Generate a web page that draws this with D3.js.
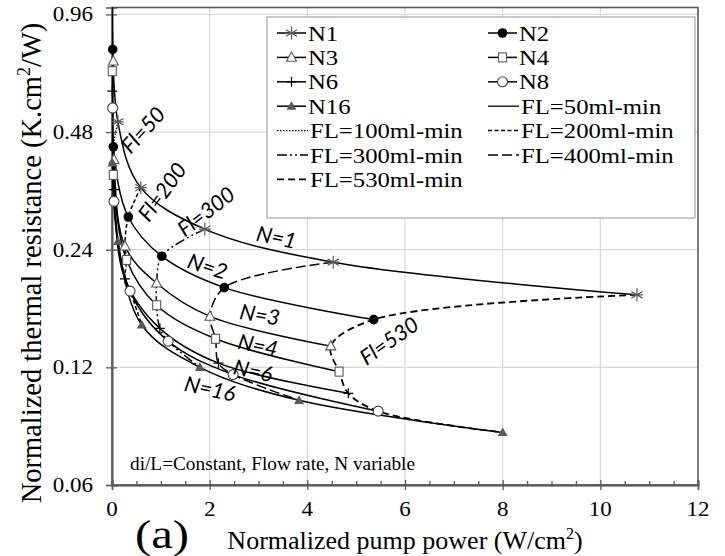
<!DOCTYPE html>
<html><head><meta charset="utf-8">
<script src="https://cdn.jsdelivr.net/npm/d3@7"></script>
<style>body{margin:0;background:#fff}</style>
</head><body><svg id="c" width="725" height="556"></svg>
<script>
// ---------------- data ----------------
const flowRates = [50, 100, 200, 300, 400, 530];
const seriesNames = ["N1", "N2", "N3", "N4", "N6", "N8", "N16"];
const powerN1  = [0.010, 0.12, 0.59, 1.90, 4.53, 10.75];
const resN1    = [1.25, 0.510, 0.346, 0.271, 0.223, 0.184];
const powerN2  = [0.014, 0.027, 0.334, 1.02, 2.30, 5.36];
const resN2    = [0.781, 0.440, 0.291, 0.231, 0.192, 0.159];
const powerN3  = [0.027, 0.041, 0.266, 0.915, 2.006, 4.48];
const resN3    = [0.729, 0.408, 0.245, 0.197, 0.162, 0.136];
const powerN4  = [0.006, 0.027, 0.30, 0.915, 2.12, 4.65];
const resN4    = [0.687, 0.373, 0.226, 0.173, 0.142, 0.117];
const powerN6  = [0.006, 0.040, 0.266, 0.98, 2.18, 4.84];
const resN6    = [0.611, 0.342, 0.202, 0.151, 0.123, 0.103];
const powerN8  = [0.014, 0.040, 0.37, 1.15, 2.48, 5.45];
const resN8    = [0.553, 0.319, 0.188, 0.140, 0.115, 0.0927];
const powerN16 = [0.010, 0.12, 0.61, 1.80, 3.83, 8.0];
const resN16   = [0.400, 0.252, 0.154, 0.120, 0.0988, 0.0818];
const flLabels = ["FL=50ml-min", "FL=100ml-min", "FL=200ml-min", "FL=300ml-min", "FL=400ml-min", "FL=530ml-min"];
const xTicks = [0, 2, 4, 6, 8, 10, 12];
const yTicks = [0.06, 0.12, 0.24, 0.48, 0.96];
const curveNotes = ["N=1", "N=2", "N=3", "N=4", "N=6", "N=16", "Fl=50", "Fl=200", "Fl=300", "Fl=530"];
const noteX = [3.37, 1.96, 3.03, 2.99, 2.89, 2.01, 0.63, 1.02, 1.92, 5.67];
const noteY = [0.259, 0.218, 0.164, 0.137, 0.118, 0.106, 0.487, 0.338, 0.301, 0.1406];
const noteRot = [12, 18, 10, 12, 12, 12, -48, -54, -38, -35];
const noteText = "di/L=Constant, Flow rate, N variable";

// --------------- setup ----------------
const svg = d3.select("#c");
const L = 112, R = 698, T = 7.5, B = 485;
const x = d3.scaleLinear().domain([0, 12]).range([L, R]);
const y = d3.scaleLog().base(2).domain([0.06, 1.0]).range([B, T]);
const SERIF = "'Liberation Serif','Times New Roman',serif";
const SANS = "Lato,'Open Sans',sans-serif";

const series = [
  {name: "N1", p: powerN1, r: resN1, m: "star"},
  {name: "N2", p: powerN2, r: resN2, m: "dot"},
  {name: "N3", p: powerN3, r: resN3, m: "tri"},
  {name: "N4", p: powerN4, r: resN4, m: "sq"},
  {name: "N6", p: powerN6, r: resN6, m: "plus"},
  {name: "N8", p: powerN8, r: resN8, m: "circ"},
  {name: "N16", p: powerN16, r: resN16, m: "ftri"}
];
const flDash = [null, "1.5,1.5", "4,2.5", "10,3,2,3,2,3", "10,4", "7,4"];
const flWidth = [1.3, 1.3, 1.5, 1.5, 1.5, 1.8];

function stext(parent, px, py, str, size, anchor, sx, family) {
  return parent.append("text")
    .attr("transform", `translate(${px},${py}) scale(${sx},1)`)
    .attr("font-family", family || SERIF)
    .attr("font-size", size)
    .attr("text-anchor", anchor)
    .attr("fill", "#000")
    .text(str);
}

function marker(g, type, cx, cy) {
  const gg = g.append("g").attr("transform", `translate(${cx},${cy})`);
  if (type === "star") {
    gg.append("path").attr("d", "M0,-6.5V6.5M-5.6,-3.3L5.6,3.3M-5.6,3.3L5.6,-3.3M-6,0H6")
      .attr("stroke", "#595959").attr("stroke-width", 1.2).attr("fill", "none");
  } else if (type === "dot") {
    gg.append("circle").attr("r", 4.8).attr("fill", "#000");
  } else if (type === "tri") {
    gg.append("path").attr("d", "M0,-5.5L5,3.8H-5Z").attr("fill", "#fff").attr("stroke", "#595959").attr("stroke-width", 1.1);
  } else if (type === "sq") {
    gg.append("rect").attr("x", -4).attr("y", -4.5).attr("width", 8).attr("height", 9).attr("fill", "#fff").attr("stroke", "#595959").attr("stroke-width", 1.1);
  } else if (type === "plus") {
    gg.append("path").attr("d", "M0,-5V5M-5,0H5").attr("stroke", "#000").attr("stroke-width", 1.2);
  } else if (type === "circ") {
    gg.append("circle").attr("r", 5).attr("fill", "#fff").attr("stroke", "#404040").attr("stroke-width", 1.1);
  } else if (type === "ftri") {
    gg.append("path").attr("d", "M0,-5L5,3.6H-5Z").attr("fill", "#595959");
  }
}

// --------------- grid ----------------
const grid = svg.append("g");
xTicks.filter(v => v > 0 && v < 12).forEach(v => {
  grid.append("line").attr("x1", x(v)).attr("x2", x(v)).attr("y1", T).attr("y2", B)
    .attr("stroke", "#d9d9d9").attr("stroke-width", 1.2);
});
yTicks.filter(v => v > 0.06).forEach(v => {
  grid.append("line").attr("x1", L).attr("x2", R).attr("y1", y(v)).attr("y2", y(v))
    .attr("stroke", "#d9d9d9").attr("stroke-width", 1.2);
});

// frame
svg.append("rect").attr("x", L).attr("y", T).attr("width", R - L).attr("height", B - T)
  .attr("fill", "none").attr("stroke", "#595959").attr("stroke-width", 1.6);

// axes via d3
const xAxis = svg.append("g").attr("transform", `translate(0,${B})`)
  .call(d3.axisBottom(x).tickValues(xTicks).tickSize(5).tickFormat(""));
const xMinor = svg.append("g").attr("transform", `translate(0,${B})`)
  .call(d3.axisTop(x).tickValues(d3.range(0.5, 12, 0.5).filter(v => v % 2 !== 0)).tickSize(4).tickFormat(""));
const xMajorUp = svg.append("g").attr("transform", `translate(0,${B})`)
  .call(d3.axisTop(x).tickValues(xTicks).tickSize(5).tickFormat(""));
const yAxis = svg.append("g").attr("transform", `translate(${L},0)`)
  .call(d3.axisLeft(y).tickValues(yTicks).tickSize(6).tickFormat(""));
const yAxisR = svg.append("g").attr("transform", `translate(${L},0)`)
  .call(d3.axisRight(y).tickValues(yTicks).tickSize(5).tickFormat(""));
[xAxis, xMinor, xMajorUp, yAxis, yAxisR].forEach(a => {
  a.select(".domain").attr("stroke", "#595959").attr("stroke-width", 1.6);
  a.selectAll(".tick line").attr("stroke", "#595959").attr("stroke-width", 1.3);
});

// tick labels
xTicks.forEach(v => stext(svg, x(v), 516, String(v), 20, "middle", 1.15));
yTicks.forEach(v => stext(svg, 93, y(v) + 7, String(v), 20, "end", 1.15));

// --------------- curves ----------------
svg.append("clipPath").attr("id", "clip").append("rect")
  .attr("x", L).attr("y", T).attr("width", R - L).attr("height", B - T);
const plot = svg.append("g").attr("clip-path", "url(#clip)");
const line = d3.line().x(d => x(d[0])).y(d => y(d[1])).curve(d3.curveCatmullRom.alpha(0.5));

series.forEach(s => {
  const pts = s.p.map((v, i) => [v, s.r[i]]);
  plot.append("path").attr("d", line(pts)).attr("fill", "none")
    .attr("stroke", "#000").attr("stroke-width", 1.5);
});
flowRates.forEach((f, j) => {
  const pts = series.map(s => [s.p[j], s.r[j]]);
  plot.append("path").attr("d", line(pts)).attr("fill", "none")
    .attr("stroke", "#000").attr("stroke-width", flWidth[j])
    .attr("stroke-dasharray", flDash[j]);
});
const mk = svg.append("g");
series.forEach(s => {
  s.p.forEach((v, i) => {
    if (s.r[i] <= 1.0) marker(mk, s.m, x(v), y(s.r[i]));
  });
});

// curve notes
curveNotes.forEach((t, i) => {
  svg.append("text")
    .attr("transform", `translate(${x(noteX[i])},${y(noteY[i])}) rotate(${noteRot[i]})`)
    .attr("font-family", SANS).attr("font-style", "italic").attr("font-size", 21.5)
    .attr("text-anchor", "middle").attr("dominant-baseline", "central")
    .attr("fill", "#000").text(t);
});

// annotation
stext(svg, 130, 470, noteText, 19.3, "start", 1.0);

// --------------- legend ----------------
const lg = svg.append("g");
lg.append("rect").attr("x", 267).attr("y", 17).attr("width", 428).attr("height", 201)
  .attr("fill", "#fff").attr("stroke", "#a6a6a6").attr("stroke-width", 1.2);
const legendItems = [];
series.forEach(s => legendItems.push({label: s.name, m: s.m, dash: null, w: 1.5}));
flLabels.forEach((l, j) => legendItems.push({label: l, m: null, dash: flDash[j], w: flWidth[j]}));
legendItems.forEach((it, k) => {
  const col = k % 2, row = Math.floor(k / 2);
  const cy = 33 + row * 24.4;
  const x0 = col === 0 ? 277 : 488;
  const x1 = it.m ? x0 + 29 : x0 + 31;
  lg.append("line").attr("x1", x0).attr("x2", x1).attr("y1", cy).attr("y2", cy)
    .attr("stroke", "#000").attr("stroke-width", it.w).attr("stroke-dasharray", it.dash);
  if (it.m) marker(lg, it.m, (x0 + x1) / 2, cy);
  stext(lg, x1 + 2, cy + 7.5, it.label, 21.5, "start", 1.15);
});

// --------------- titles ----------------
const xt = stext(svg, 405, 549, "", 26, "middle", 1.0);
xt.append("tspan").text("Normalized pump power (W/cm");
xt.append("tspan").attr("font-size", 16).attr("dy", -10).text("2");
xt.append("tspan").attr("dy", 10).text(")");
stext(svg, 162, 548, "(a)", 39, "middle", 1.25);

const yt = svg.append("text")
  .attr("transform", "translate(41,263) rotate(-90)")
  .attr("font-family", SERIF).attr("font-size", 28.5).attr("text-anchor", "middle").attr("fill", "#000");
yt.append("tspan").text("Normalized thermal resistance (K.cm");
yt.append("tspan").attr("font-size", 18).attr("dy", -11).text("2");
yt.append("tspan").attr("dy", 11).text("/W)");
</script>
</body></html>
